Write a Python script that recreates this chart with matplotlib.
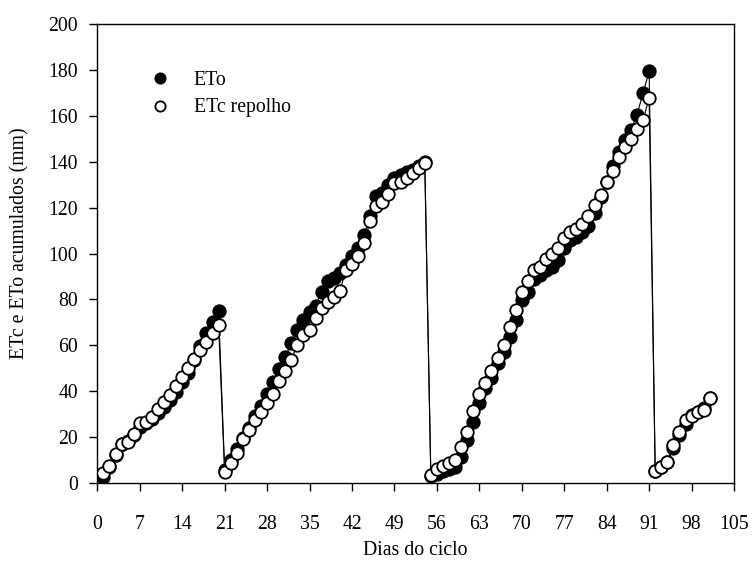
import matplotlib
matplotlib.use("Agg")
import matplotlib.pyplot as plt
import numpy as np

plt.rcParams['font.family'] = ['Liberation Serif', 'DejaVu Serif']

# Days of the cycle (four consecutive crop cycles)
days = list(range(1, 102))

eto_c1 = [2.7, 7, 12, 17, 18, 21, 24.5, 26, 28, 30.5, 33, 36, 39.5, 44, 48, 53.5, 59.5, 65.2, 70, 74.8]
eto_c2 = [5.5, 10, 14.5, 19.5, 24, 29, 33.5, 38.5, 44, 49.5, 55, 61, 66.7, 71, 74.7, 77.2,
          83.4, 87.8, 89.3, 91.4, 95.1, 98.7, 102.4, 108.2, 116.5, 125.2, 126.6, 130, 133,
          134.4, 135.5, 136.5, 138, 140]
eto_c3 = [2.8, 4, 5, 6, 7, 11.4, 18.6, 26.6, 34.7, 41.2, 45.6, 52.1, 57.2, 63.6, 71, 79.8,
          83.4, 88.8, 90.7, 92.9, 94.3, 97.3, 102.4, 106, 107.4, 109.3, 111.8, 117.6, 124.5,
          131, 138, 144.5, 149.5, 154, 160.6, 170, 179.5]
eto_c4 = [5, 7, 9, 15, 21, 25.5, 29.5, 31, 32.5, 37]

etc_c1 = [4.1, 7.4, 12.4, 16.8, 17.9, 21.1, 26.2, 26.6, 28.8, 32, 35, 38.3, 42.2, 46.3, 50,
          53.9, 57.9, 61.6, 65.5, 68.9]
etc_c2 = [4.8, 8.7, 13.1, 19.2, 23.2, 27.5, 31, 34.7, 38.7, 44.3, 48.8, 53.6, 60.3, 64.5,
          66.7, 71.8, 76.2, 79, 81.2, 83.7, 92.9, 95.5, 99, 104.5, 114.4, 120.8, 122.3,
          126.1, 130.7, 131.2, 132.9, 135.1, 137.3, 139.7]
etc_c3 = [3.4, 5.8, 7.3, 8.7, 9.7, 15.7, 22.3, 31.2, 38.8, 43.4, 48.7, 54.4, 60.3, 68.1,
          75.4, 83.4, 87.8, 92.9, 94, 97.8, 100, 102.4, 106.9, 109.4, 110.7, 113, 116.2,
          121.3, 125.4, 131.4, 136.2, 142.1, 146.5, 150, 154.5, 158.1, 167.9]
etc_c4 = [5.2, 7, 9.2, 16.5, 22.3, 27.4, 29.1, 31, 31.7, 36.8]

eto = eto_c1 + eto_c2 + eto_c3 + eto_c4
etc = etc_c1 + etc_c2 + etc_c3 + etc_c4

xticks = list(range(0, 106, 7))
yticks = list(range(0, 201, 20))

fig = plt.figure(figsize=(7.52, 5.63), dpi=100)
ax = fig.add_axes([0.1294, 0.1426, 0.8467, 0.8142])

ax.plot(days, eto, color='black', lw=0.8, zorder=1)
ax.plot(days, etc, color='black', lw=0.8, zorder=1)
ax.plot(days, eto, linestyle='none', marker='o', ms=9, mfc='black', mec='black',
        mew=1.3, label='ETo', zorder=2)
ax.plot(days, etc, linestyle='none', marker='o', ms=9, mfc='white', mec='black',
        mew=1.3, label='ETc repolho', zorder=3)

ax.set_xlim(0, 105)
ax.set_ylim(0, 200)
ax.set_xticks(xticks)
ax.set_yticks(yticks)
ax.tick_params(axis='both', direction='out', length=6, width=1.0, labelsize=14.2)
ax.tick_params(axis='x', pad=17)
ax.tick_params(axis='y', pad=8)
for s in ax.spines.values():
    s.set_linewidth(1.0)

ax.set_xlabel('Dias do ciclo', fontsize=14.2)
ax.xaxis.set_label_coords(0.5, -0.128)
ax.set_ylabel('ETc e ETo acumulados (mm)', fontsize=14.2, va='center')
ax.yaxis.set_label_coords(-0.121, 0.523)

ax.legend(loc='upper left', bbox_to_anchor=(0.083, 0.899), frameon=False,
          fontsize=14.2, markerscale=0.82, handlelength=1.0, handletextpad=1.2,
          labelspacing=0.45, borderpad=0, borderaxespad=0)

fig.savefig('out.png', dpi=100)
